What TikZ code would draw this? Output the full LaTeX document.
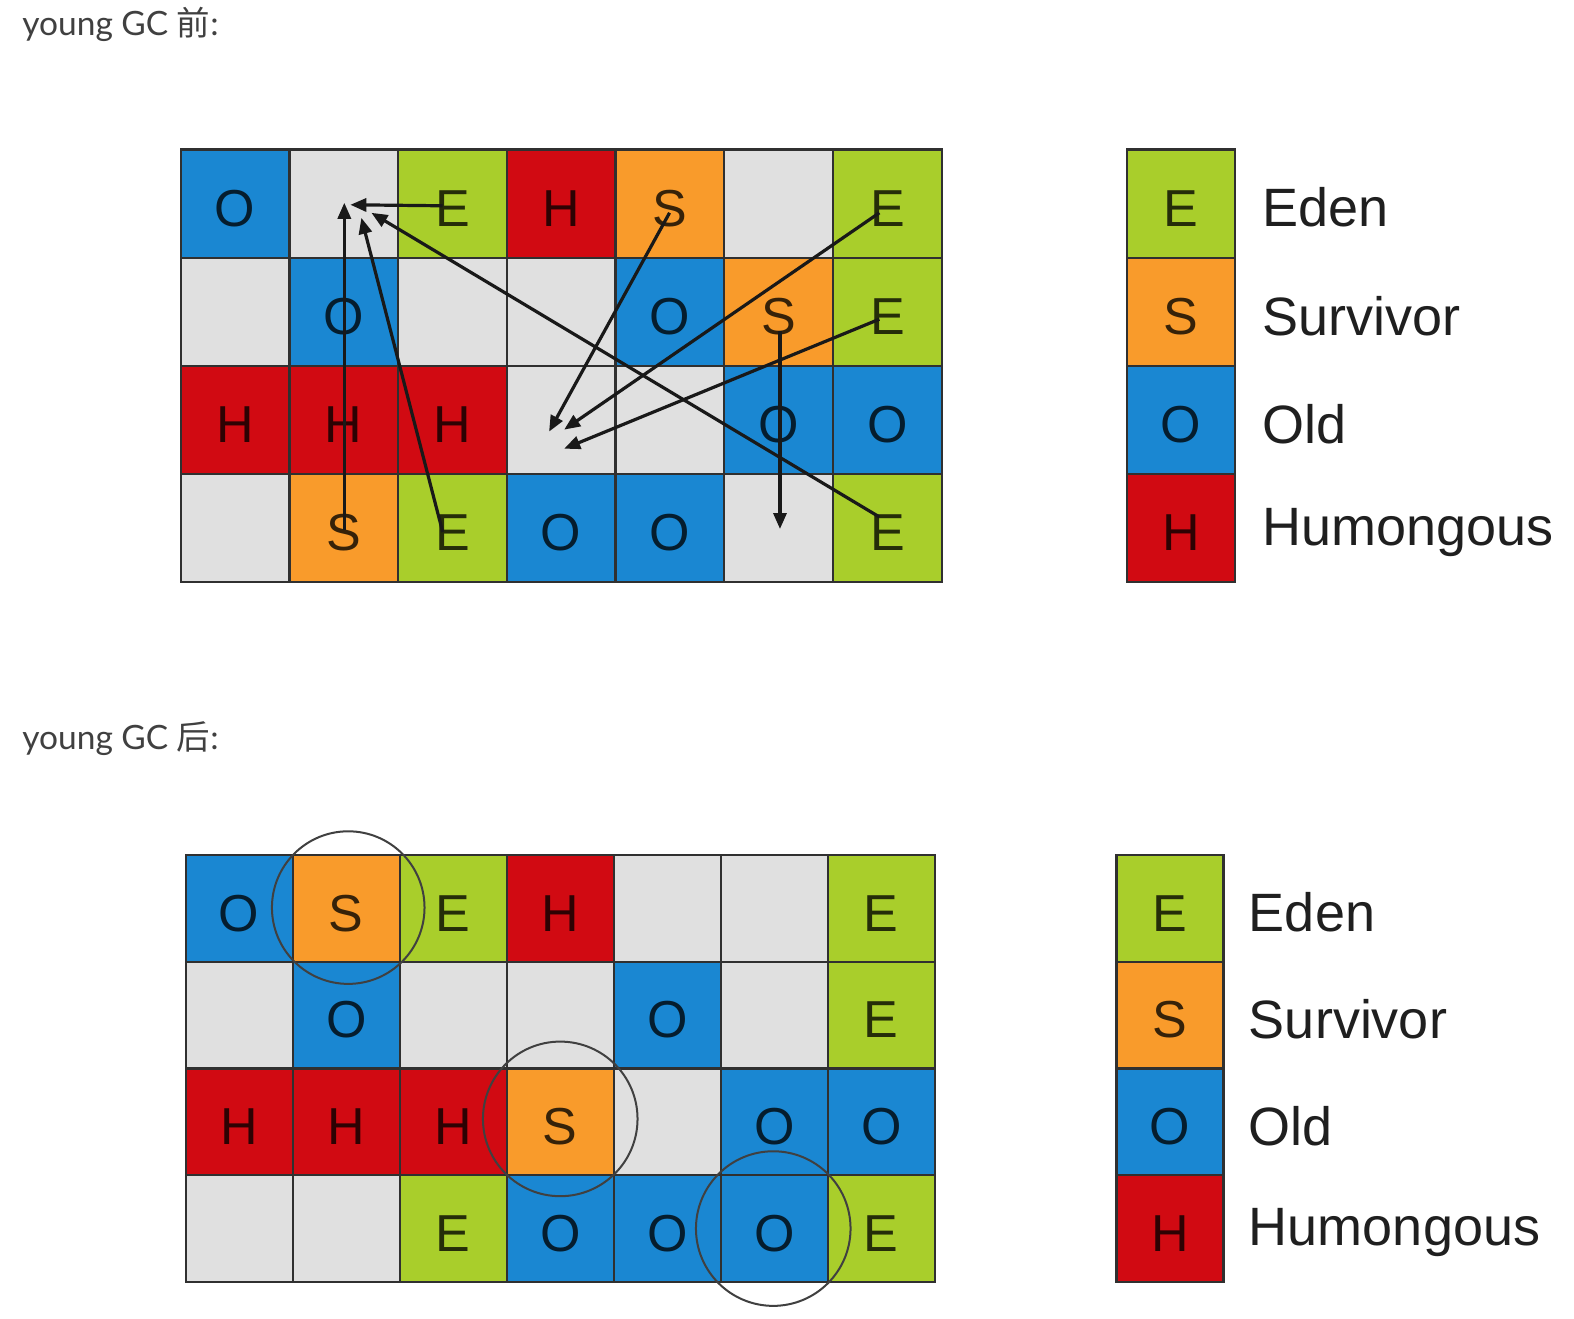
\documentclass[tikz,border=0pt]{standalone}
\usepackage{fontspec}
\setmainfont{Liberation Sans}
\newfontfamily\headfont{Lato}
\newfontfamily\cjk{Noto Sans CJK SC}
\usetikzlibrary{arrows.meta,calc}
\definecolor{cgreen}{HTML}{A9CE2B}
\definecolor{corange}{HTML}{F99B2B}
\definecolor{cblue}{HTML}{1A87D2}
\definecolor{cred}{HTML}{D10A12}
\definecolor{cgray}{HTML}{E0E0E0}
\definecolor{cborder}{HTML}{303030}
\definecolor{chead}{HTML}{404040}
\begin{document}
\begin{tikzpicture}[x=1.00383pt,y=-1.00383pt,
  cell/.style={draw=cborder, line width=2.2pt, minimum width=\cw, minimum height=\ch,
    inner sep=0pt, outer sep=0pt, text height=45pt, text depth=0pt,
    font=\fontsize{52}{52}\selectfont, text=black, text opacity=0.78},
  cellE/.style={cell, fill=cgreen, node contents={E}},
  cellS/.style={cell, fill=corange, node contents={S}},
  cellO/.style={cell, fill=cblue, node contents={O}},
  cellH/.style={cell, fill=cred, node contents={H}},
  cellG/.style={cell, fill=cgray, node contents={}},
  legtext/.style={anchor=west, inner sep=0pt, yshift=-4pt, font=\fontsize{54}{54}\selectfont, text=black!88},
  heading/.style={anchor=west, inner sep=0pt, font=\headfont\fontsize{33.5}{33.5}\selectfont, text=chead},
  arr/.style={line width=3.2pt, black!90, -{Triangle[length=16pt,width=13pt]}},
  ring/.style={draw=black!75, line width=2pt}
]
\fill[white] (0,0) rectangle (1568,1313);
\useasboundingbox (0,0) rectangle (1568,1313);

% headings
\node[heading] (h1) at (22,24) {young GC {\cjk 前}:};
\node[heading] (h2) at (22,736) {young GC {\cjk 后}:};

% ---------- top grid ----------
\def\cw{108.7pt}\def\ch{108.15pt}
\foreach \rowlist [count=\r from 0] in {{O,G,E,H,S,G,E},{G,O,G,G,O,S,E},{H,H,H,G,G,O,O},{G,S,E,O,O,G,E}}{
  \foreach \t [count=\c from 0] in \rowlist {
    \node (a-\r-\c) at ({180+(\c+0.5)*108.3},{149+(\r+0.5)*107.75}) [cell\t];
  }
}
% top legend
\foreach \t/\lab [count=\r from 0] in {E/Eden,S/Survivor,O/Old,H/Humongous}{
  \node (la-\r) at (1176.5,{149+(\r+0.5)*107.75}) [cell\t];
  \node[legtext] (lat-\r) at (1257,{149+(\r+0.5)*107.75}) {\lab};
}

% arrows (top)
\coordinate (s1) at (441,205); \coordinate (e1) at (349,204);
\coordinate (s2) at (343,528); \coordinate (e2) at (343,202);
\coordinate (s3) at (441,530); \coordinate (e3) at (360,217);
\coordinate (s4) at (876,515); \coordinate (e4) at (370,212);
\coordinate (s5) at (667,212); \coordinate (e5) at (547,430);
\coordinate (s6) at (876,212); \coordinate (e6) at (562,428);
\coordinate (s7) at (876,318); \coordinate (e7) at (562,447);
\coordinate (s8) at (777,330); \coordinate (e8) at (777,527);
\foreach \i in {1,...,8}{ \draw[arr] (s\i) -- (e\i); }

% ---------- bottom grid ----------
\def\cw{107pt}\def\ch{106.65pt}
\foreach \rowlist [count=\r from 0] in {{O,S,E,H,G,G,E},{G,O,G,G,O,G,E},{H,H,H,S,G,O,O},{G,G,E,O,O,O,E}}{
  \foreach \t [count=\c from 0] in \rowlist {
    \node (b-\r-\c) at ({185+(\c+0.5)*106.6},{852+(\r+0.5)*106.25}) [cell\t];
  }
}
% bottom legend
\foreach \t/\lab [count=\r from 0] in {E/Eden,S/Survivor,O/Old,H/Humongous}{
  \node (lb-\r) at (1165.5,{852+(\r+0.5)*106.25}) [cell\t];
  \node[legtext] (lbt-\r) at (1244,{852+(\r+0.5)*106.25}) {\lab};
}
% circles
\draw[ring] ($(b-0-1.center)+(2,-1)$) circle[radius=76];
\draw[ring] ($(b-2-3.center)+(0,-3)$) circle[radius=77];
\draw[ring] ($(b-3-5.center)+(-1,0)$) circle[radius=77];
\end{tikzpicture}
\end{document}
